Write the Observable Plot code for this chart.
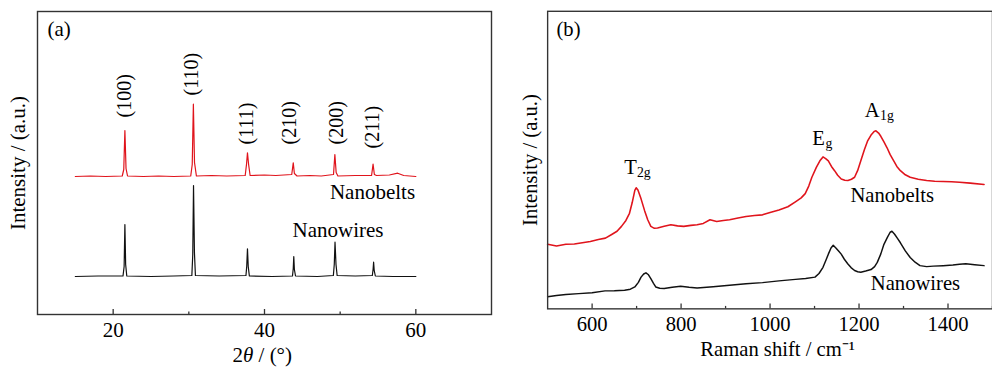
<!DOCTYPE html>
<html><head><meta charset="utf-8">
<script src="https://cdn.jsdelivr.net/npm/d3@7"></script>
<script src="https://cdn.jsdelivr.net/npm/@observablehq/plot@0.6"></script>
<style>
html,body{margin:0;padding:0;background:#fff;}
#wrap{position:relative;width:992px;height:367px;overflow:hidden;}
#pa{position:absolute;left:0;top:0;}
#pb{position:absolute;left:500px;top:0;}
</style></head>
<body><div id="wrap"><div id="pa"></div><div id="pb"></div></div>
<script>
// ---------- Panel (a): XRD ----------
const xrdNanobelts = [
  [15,138],[17,138.5],[19,138],[21.2,138.5],[21.4,145],[21.55,184],[21.7,146],[21.9,138.5],[24,138],[26,138.5],[28,138],[30.25,138.5],[30.45,150],[30.6,210.3],[30.75,152],[31,138.5],
  [33,139],[35,138.5],[37.45,139],[37.62,150],[37.75,161.7],[37.9,150],[38.1,139],[40,139.5],[41.5,139],[43.6,140],[43.8,151.7],[43.95,141],[44.3,138.5],
  [46,139],[47.5,138.5],[49.12,140],[49.3,160],[49.47,142],[49.7,138.5],[52,139],[54.15,139],[54.35,150.3],[54.52,140],[54.8,139],[56.5,139.5],[57.6,141.3],[58.4,139],[60,138]
];
const xrdNanowires = [
  [15,38],[18,38.5],[21.3,38.5],[21.45,48],[21.55,90],[21.65,50],[21.8,38.5],[25,38],[28,38.5],[30.4,39],[30.52,60],[30.62,129],[30.74,62],[30.87,39],[34,38.5],
  [37.55,39],[37.65,48],[37.75,65.7],[37.85,48],[38,38.5],[41,38],[43.7,38.5],[43.8,46],[43.87,58],[43.95,45],[44.1,38.5],[47,38],
  [49.1,39],[49.22,50],[49.32,72.3],[49.45,50],[49.6,39],[52,38.5],[54.25,39],[54.35,45],[54.42,52.3],[54.5,44],[54.65,38.5],[57,38],[60,38]
];
const xrdTicksMajor = [20, 40, 60];
const xrdTicksMinor = [30, 50];
const xrdPeakLabels = ["(100)","(110)","(111)","(210)","(200)","(211)"];
const xrdPeakLabelX = [21.55, 30.4, 37.67, 43.36, 49.5, 54.3];
const xrdPeakLabelY = [197, 219, 170, 170, 170, 166];

// ---------- Panel (b): Raman ----------
const ramanNanobelts = [
  [500,65.7],[520,64],[541,65.7],[560,66],[578,67.3],[596,68.5],[614,70.7],[630,72],[644,75.7],[656,79],[666,84],[676,90],[684,97.3],[690,108],[696,120.7],[699,123.3],[703,121],
  [710,112],[718,100],[725,90.7],[732,84],[740,82],[747,82.3],[762,84],[777,85.7],[792,84.5],[806,84],[822,85],[836,85.7],[850,87],[865,90.7],[880,89],[895,90],[909,90.7],
  [928,92.5],[946,94],[965,95],[983,95.7],[1000,98],[1020,100.7],[1040,104],[1057,109],[1070,113],[1079,117.3],[1087,125],[1094,134],[1104,144],[1112,150.7],[1119,154.7],[1125,153],
  [1131,150.7],[1138,145],[1145,140.7],[1152,136],[1160,132.3],[1168,131],[1175,130.7],[1183,132],[1190,134],[1197,141],[1204,150.7],[1212,162],[1219,170.7],[1227,177],[1234,180.7],[1238,181.3],
  [1244,179],[1249,175.7],[1256,170],[1263,164],[1270,157],[1278,150.7],[1285,145],[1293,140.7],[1304,136.5],[1315,134],[1333,132],[1352,130.7],[1370,130],[1389,129.7],[1408,129.5],[1426,129],[1450,128],[1481,126.7]
];
const ramanNanowires = [
  [500,12.3],[520,13.5],[541,14.7],[570,15.5],[600,16.3],[629,18.3],[650,18.5],[673,19],[686,20],[696,22.3],[704,27],[710,32.3],[716,35.5],[721,36.7],[726,35],[732,30.7],
  [738,26],[743,22.3],[752,21],[762,20.7],[780,22],[799,23],[818,22],[836,21.3],[872,22.5],[909,24],[946,25.5],[983,26.7],[1020,28.5],[1057,30],[1080,31],[1101,32.3],
  [1110,36],[1119,42.3],[1126,50],[1131,55.7],[1137,62],[1142,64.7],[1148,62],[1154,59],[1160,55.7],[1167,50.5],[1175,45.7],[1182,42],[1190,39],[1197,37.8],[1204,37.3],
  [1215,38.5],[1227,40],[1235,43],[1241,47.3],[1249,56],[1256,65.7],[1264,73],[1270,78],[1274,79],[1280,76],[1286,72],[1293,67.3],[1304,59],[1315,52.3],[1326,47.5],[1337,44],
  [1352,43],[1367,43.5],[1389,44],[1411,44.7],[1426,45.5],[1440,46],[1460,45],[1481,44]
];
const ramanTicksMajor = [600, 800, 1000, 1200, 1400];
const ramanTicksMinor = [700, 900, 1100, 1300, 1500];
const ramanModeBase = ["T", "E", "A"];
const ramanModeSub = ["2g", "g", "1g"];
const ramanModeX = [672, 1095, 1213];
const ramanModeY = [137.3, 167.3, 195.7];
const ramanModeSubDx = [13, 13.5, 15.5];

const RED = "#e0141c", BLK = "#111";
const FONT = "Liberation Serif";
const H = 367, MT = 11, MB = 53;
const yDom = [0, H - MT - MB];

function toObj(arr){ return arr.map(([x,y]) => ({x, y})); }
const T = {fontFamily: FONT, fill: "#000"};

const plotA = Plot.plot({
  width: 500, height: H,
  marginLeft: 37, marginRight: 9, marginTop: MT, marginBottom: MB,
  style: {fontFamily: FONT, fontSize: "21px", color: "#000", background: "#fff"},
  x: {domain: [10, 70]},
  y: {domain: yDom, axis: null},
  marks: [
    Plot.axisX({ticks: xrdTicksMajor, tickSize: 0, tickPadding: 8, label: null, tickFormat: d => String(d), fontSize: 21, fontFamily: FONT}),
    Plot.ruleX(xrdTicksMajor, {x: d => d, y1: 0, y2: 5, stroke: "#333", strokeWidth: 1.3}),
    Plot.ruleX(xrdTicksMinor, {x: d => d, y1: 0, y2: 2.5, stroke: "#333", strokeWidth: 1.3}),
    Plot.line(toObj(xrdNanobelts), {x: "x", y: "y", stroke: RED, strokeWidth: 1.2}),
    Plot.line(toObj(xrdNanowires), {x: "x", y: "y", stroke: BLK, strokeWidth: 1.2}),
    Plot.text(xrdPeakLabels, {...T, x: (d,i) => xrdPeakLabelX[i], y: (d,i) => xrdPeakLabelY[i], text: d => d, rotate: -90, textAnchor: "start", lineAnchor: "middle", fontSize: 20}),
    Plot.text(["Nanobelts"], {...T, x: 59.9, y: 116, text: d => d, textAnchor: "end", lineAnchor: "bottom", fontSize: 21}),
    Plot.text(["Nanowires"], {...T, x: 43.7, y: 78, text: d => d, textAnchor: "start", lineAnchor: "bottom", fontSize: 21}),
    Plot.text(["(a)"], {...T, frameAnchor: "top-left", dx: 10, dy: 10, text: d => d, textAnchor: "start", lineAnchor: "top", fontSize: 21}),
    Plot.text(["Intensity / (a.u.)"], {...T, frameAnchor: "left", dx: -19, text: d => d, rotate: -90, textAnchor: "middle", lineAnchor: "middle", fontSize: 21}),
    Plot.text(["2θ / (°)"], {...T, x: 39.7, frameAnchor: "bottom", dy: 47, text: d => d, textAnchor: "middle", lineAnchor: "bottom", fontSize: 21}),
    Plot.frame({stroke: "#333", strokeWidth: 1.4})
  ]
});

const plotB = Plot.plot({
  width: 501, height: H,
  marginLeft: 48, marginRight: 0, marginTop: MT, marginBottom: MB,
  style: {fontFamily: FONT, fontSize: "21px", color: "#000", background: "#fff"},
  x: {domain: [500, 1500]},
  y: {domain: yDom, axis: null},
  marks: [
    Plot.axisX({ticks: ramanTicksMajor, tickSize: 0, tickPadding: 8, label: null, tickFormat: d => String(d), fontSize: 21, fontFamily: FONT}),
    Plot.ruleX(ramanTicksMajor, {x: d => d, y1: 0, y2: 5, stroke: "#333", strokeWidth: 1.3}),
    Plot.ruleX(ramanTicksMinor, {x: d => d, y1: 0, y2: 2.5, stroke: "#333", strokeWidth: 1.3}),
    Plot.line(toObj(ramanNanobelts), {x: "x", y: "y", stroke: RED, strokeWidth: 1.6}),
    Plot.line(toObj(ramanNanowires), {x: "x", y: "y", stroke: BLK, strokeWidth: 1.5}),
    Plot.text(ramanModeBase, {...T, x: (d,i) => ramanModeX[i], y: (d,i) => ramanModeY[i], text: d => d, textAnchor: "start", lineAnchor: "bottom", fontSize: 21}),
    ...ramanModeSub.map((s, i) => Plot.text([s], {...T, x: ramanModeX[i], y: ramanModeY[i], dx: ramanModeSubDx[i], dy: 3.5, text: d => d, textAnchor: "start", lineAnchor: "bottom", fontSize: 14})),
    Plot.text(["Nanobelts"], {...T, x: 1180.7, y: 109, text: d => d, textAnchor: "start", lineAnchor: "bottom", fontSize: 21}),
    Plot.text(["Nanowires"], {...T, x: 1226.5, y: 19, text: d => d, textAnchor: "start", lineAnchor: "bottom", fontSize: 21}),
    Plot.text(["(b)"], {...T, frameAnchor: "top-left", dx: 9, dy: 10, text: d => d, textAnchor: "start", lineAnchor: "top", fontSize: 21}),
    Plot.text(["Intensity / (a.u.)"], {...T, frameAnchor: "left", dx: -18, text: d => d, rotate: -90, textAnchor: "middle", lineAnchor: "middle", fontSize: 21}),
    Plot.text(["Raman shift / cm⁻¹"], {...T, x: 1017, frameAnchor: "bottom", dy: 48, text: d => d, textAnchor: "middle", lineAnchor: "bottom", fontSize: 21}),
    Plot.frame({stroke: "#333", strokeWidth: 1.4})
  ]
});

// italic theta in the x label
d3.select(plotA).selectAll("text").filter(function(){ return this.textContent === "2θ / (°)"; }).each(function(){
  const t = d3.select(this);
  t.text(null);
  t.append("tspan").text("2");
  t.append("tspan").attr("font-style", "italic").text("θ");
  t.append("tspan").text(" / (°)");
});

document.getElementById("pa").appendChild(plotA);
document.getElementById("pb").appendChild(plotB);
</script>
</body></html>
